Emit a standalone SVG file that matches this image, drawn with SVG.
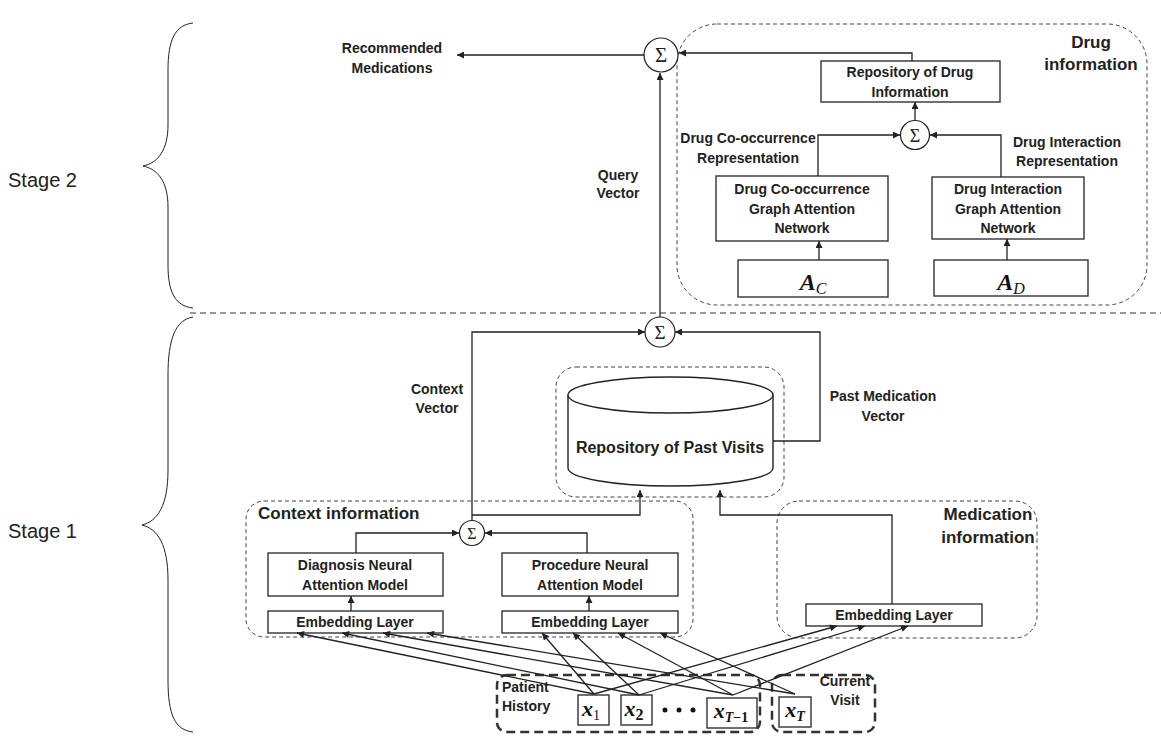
<svg xmlns="http://www.w3.org/2000/svg" width="1161" height="740" viewBox="0 0 1161 740">
<defs>
<marker id="ah" viewBox="0 0 10 10" refX="10" refY="5" markerWidth="8" markerHeight="7" markerUnits="userSpaceOnUse" orient="auto"><path d="M0,0 L10,5 L0,10 z" fill="#222"/></marker>
</defs>
<style>
.t{font-family:"Liberation Sans",Arial,sans-serif;font-weight:bold;font-size:14px;fill:#222;text-anchor:middle}
.big{font-size:17px}
.stage{font-family:"Liberation Sans",Arial,sans-serif;font-size:20px;fill:#222}
.box{fill:#fff;stroke:#333;stroke-width:1.4}
.dash{fill:none;stroke:#444;stroke-width:1;stroke-dasharray:4,3}
.hdash{fill:none;stroke:#333;stroke-width:2.5;stroke-dasharray:9,5}
.sum{fill:#fff;stroke:#222;stroke-width:1.2}
.sig{font-family:"Liberation Serif","DejaVu Serif",serif;fill:#222;text-anchor:middle}
.ln{fill:none;stroke:#222;stroke-width:1.3}
.ar{fill:none;stroke:#222;stroke-width:1.3;marker-end:url(#ah)}
.brace{fill:none;stroke:#222;stroke-width:1}
.m{font-family:"Liberation Serif","DejaVu Serif",serif;font-style:italic;font-weight:bold;fill:#111;text-anchor:middle}
</style>
<rect width="1161" height="740" fill="#fff"/>

<!-- stage labels and braces -->
<g id="stage2">
<text class="stage" x="8" y="187">Stage 2</text>
<path class="brace" d="M193,23 C175,25 168,40 168,70 L168,125 C168,150 158,163 143,166 C158,169 168,182 168,207 L168,265 C168,292 175,306 193,308"/>
</g>
<g id="stage1">
<text class="stage" x="8" y="538">Stage 1</text>
<path class="brace" d="M193,317 C175,320 168,340 168,375 L168,470 C168,505 158,521 142,525 C158,529 168,545 168,580 L168,680 C168,715 175,730 193,732"/>
</g>
<line x1="190" y1="313" x2="1161" y2="313" stroke="#333" stroke-width="1" stroke-dasharray="6,4"/>

<!-- group boxes -->
<g id="drug-info">
<rect class="dash" x="677" y="24" width="470" height="281" rx="40"/>
<text class="t big" x="1091" y="48">Drug</text>
<text class="t big" x="1091" y="70">information</text>
</g>
<g id="context-info">
<rect class="dash" x="246" y="501" width="447" height="136" rx="18"/>
<text class="t big" x="258" y="519" style="text-anchor:start">Context information</text>
</g>
<g id="medication-info">
<rect class="dash" x="777" y="501" width="260" height="137" rx="22"/>
<text class="t big" x="988" y="520">Medication</text>
<text class="t big" x="988" y="543">information</text>
</g>
<g id="repo-past-visits">
<rect class="dash" x="556" y="367" width="228" height="130" rx="20"/>
<path d="M568,395 L568,468 A102.5,18 0 0 0 773,468 L773,395" fill="#fff" stroke="#222" stroke-width="1.4"/>
<ellipse cx="670.5" cy="395" rx="102.5" ry="18" fill="#fff" stroke="#222" stroke-width="1.4"/>
<text class="t" x="670" y="453" style="font-size:16px">Repository of Past Visits</text>
</g>

<!-- sum nodes -->
<g id="sum-top"><circle class="sum" cx="661" cy="55" r="17"/><text class="sig" x="661" y="62" font-size="21">Σ</text></g>
<g id="sum-drug"><circle class="sum" cx="915" cy="135" r="14.5"/><text class="sig" x="915" y="141.5" font-size="18">Σ</text></g>
<g id="sum-stage1"><circle class="sum" cx="660" cy="332" r="15"/><text class="sig" x="660" y="338.5" font-size="19">Σ</text></g>
<g id="sum-context"><circle class="sum" cx="472" cy="533" r="12.5"/><text class="sig" x="472" y="539" font-size="16">Σ</text></g>

<!-- drug boxes -->
<g id="repo-drug">
<rect class="box" x="821" y="61" width="179" height="41"/>
<text class="t" x="910" y="77">Repository of Drug</text>
<text class="t" x="910" y="97">Information</text>
</g>
<g id="gat-co">
<rect class="box" x="716" y="176" width="172" height="65"/>
<text class="t" x="802" y="194">Drug Co-occurrence</text>
<text class="t" x="802" y="214">Graph Attention</text>
<text class="t" x="802" y="233">Network</text>
</g>
<g id="gat-int">
<rect class="box" x="932" y="177" width="152" height="62"/>
<text class="t" x="1008" y="194">Drug Interaction</text>
<text class="t" x="1008" y="214">Graph Attention</text>
<text class="t" x="1008" y="233">Network</text>
</g>
<g id="ac">
<rect class="box" x="738" y="260" width="150" height="37"/>
<text class="m" x="813" y="290" font-size="24">A<tspan font-size="16" font-weight="normal" dy="4">C</tspan></text>
</g>
<g id="ad">
<rect class="box" x="934" y="260" width="154" height="36"/>
<text class="m" x="1011" y="290" font-size="24">A<tspan font-size="16" font-weight="normal" dy="4">D</tspan></text>
</g>

<!-- stage 1 boxes -->
<g id="diag-model">
<rect class="box" x="268" y="553" width="175" height="43"/>
<text class="t" x="355" y="570">Diagnosis Neural</text>
<text class="t" x="355" y="590">Attention Model</text>
</g>
<g id="proc-model">
<rect class="box" x="502" y="553" width="176" height="43"/>
<text class="t" x="590" y="570">Procedure Neural</text>
<text class="t" x="590" y="590">Attention Model</text>
</g>
<g id="emb-diag"><rect class="box" x="268" y="611" width="175" height="22"/><text class="t" x="355" y="627">Embedding Layer</text></g>
<g id="emb-proc"><rect class="box" x="502" y="611" width="176" height="22"/><text class="t" x="590" y="627">Embedding Layer</text></g>
<g id="emb-med"><rect class="box" x="806" y="604" width="176" height="22"/><text class="t" x="894" y="620">Embedding Layer</text></g>

<!-- patient history / current visit -->
<g id="patient-history">
<rect class="hdash" x="497" y="675" width="263" height="57" rx="10"/>
<text class="t" x="502" y="692" style="text-anchor:start">Patient</text>
<text class="t" x="502" y="711" style="text-anchor:start">History</text>
</g>
<g id="current-visit">
<rect class="hdash" x="772" y="675" width="103" height="57" rx="10"/>
<text class="t" x="845" y="686">Current</text>
<text class="t" x="845" y="705">Visit</text>
</g>
<g id="x1"><rect class="box" x="578" y="695" width="31" height="30"/><text class="m" x="591" y="716" font-size="22">x<tspan font-size="14" font-style="normal" font-weight="normal" dy="4">1</tspan></text></g>
<g id="x2"><rect class="box" x="621" y="695" width="31" height="30"/><text class="m" x="634" y="716" font-size="22">x<tspan font-size="16" font-style="normal" font-weight="bold" dy="4">2</tspan></text></g>
<g id="dots"><circle cx="665" cy="710" r="2.5" fill="#111"/><circle cx="679" cy="710" r="2.5" fill="#111"/><circle cx="693" cy="710" r="2.5" fill="#111"/></g>
<g id="xT-1"><rect class="box" x="707" y="698" width="50" height="30"/><text class="m" x="731" y="718" font-size="22">x<tspan font-size="14" dy="4">T</tspan><tspan font-size="14" font-style="normal">−1</tspan></text></g>
<g id="xT"><rect class="box" x="779" y="697" width="32" height="30"/><text class="m" x="795" y="717" font-size="22">x<tspan font-size="14" dy="4">T</tspan></text></g>

<!-- connectors -->
<g id="connectors">
<path class="ar" d="M660,317 L660,73"/>
<path class="ar" d="M644,55 L457,55"/>
<path class="ar" d="M912,61 L912,53 L679,53"/>
<path class="ar" d="M915,120.5 L915,102"/>
<path class="ar" d="M818,176 L818,135 L900,135"/>
<path class="ar" d="M1001,177 L1001,135 L930,135"/>
<path class="ar" d="M819,260 L819,241"/>
<path class="ar" d="M1007,260 L1007,239"/>
<path class="ar" d="M472,520.5 L472,332 L645,332"/>
<path class="ar" d="M773,441 L820,441 L820,332 L675,332"/>
<path class="ar" d="M472,515 L640,515 L640,490"/>
<path class="ar" d="M892,604 L892,515 L720,515 L720,490"/>
<path class="ar" d="M356,553 L356,533 L459,533"/>
<path class="ar" d="M587,553 L587,533 L485,533"/>
<path class="ar" d="M351,611 L351,596"/>
<path class="ar" d="M589,611 L589,596"/>
<text class="t" x="392" y="53">Recommended</text>
<text class="t" x="392" y="73">Medications</text>
<text class="t" x="618" y="180">Query</text>
<text class="t" x="618" y="198">Vector</text>
<text class="t" x="748" y="143">Drug Co-occurrence</text>
<text class="t" x="748" y="163">Representation</text>
<text class="t" x="1067" y="147">Drug Interaction</text>
<text class="t" x="1067" y="166">Representation</text>
<text class="t" x="437" y="394">Context</text>
<text class="t" x="437" y="413">Vector</text>
<text class="t" x="883" y="401">Past Medication</text>
<text class="t" x="883" y="421">Vector</text>
<!-- inputs to embedding layers -->
<path class="ar" d="M594,694 L297,633"/>
<path class="ar" d="M639,695 L342,633"/>
<path class="ar" d="M733,695 L383,633"/>
<path class="ar" d="M795,694 L427,633"/>
<path class="ar" d="M594,694 L542,633"/>
<path class="ar" d="M639,695 L573,633"/>
<path class="ar" d="M733,695 L618,633"/>
<path class="ar" d="M795,694 L660,633"/>
<path class="ar" d="M594,694 L837,626"/>
<path class="ar" d="M639,695 L865,626"/>
<path class="ar" d="M733,695 L908,626"/>
</g>
</svg>
